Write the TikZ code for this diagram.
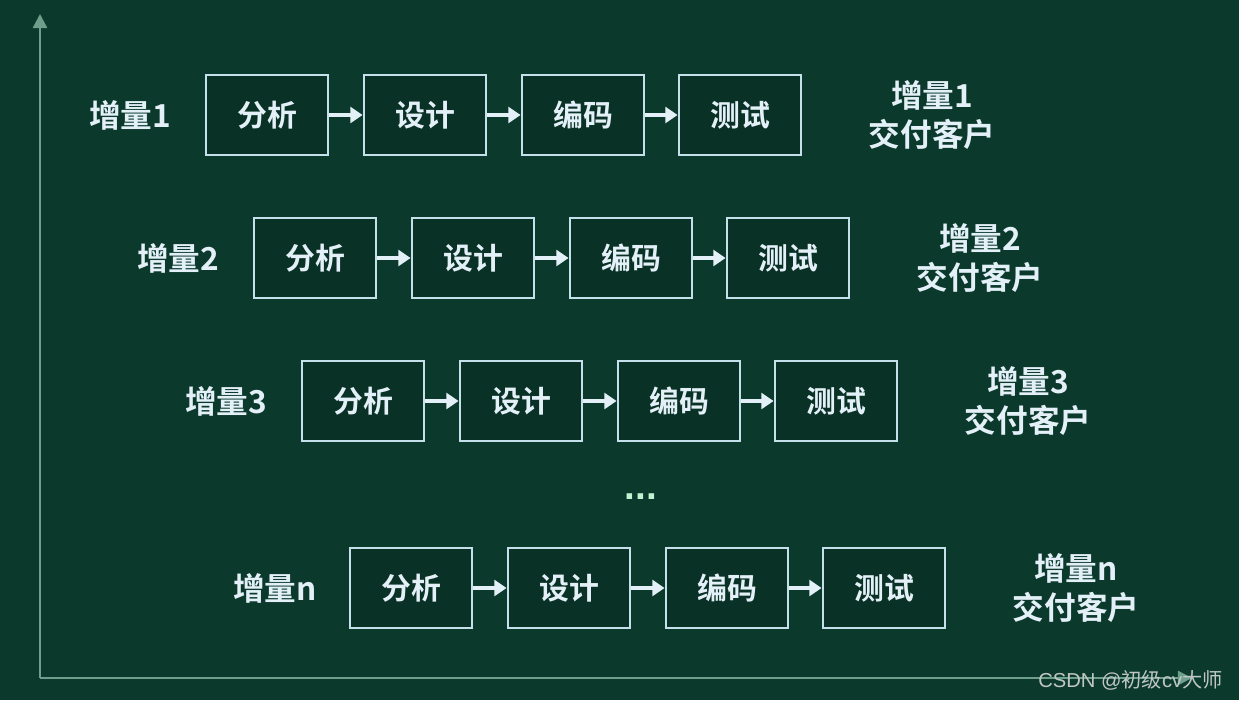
\documentclass[tikz,border=0pt]{standalone}
\usepackage{fontspec}
\newfontfamily\cjk{Noto Sans CJK SC}[BoldFont={Noto Sans CJK SC Bold}]
\setsansfont{Liberation Sans}
\usetikzlibrary{arrows.meta}
\definecolor{bg}{HTML}{0B3A2C}
\definecolor{boxline}{HTML}{C4E0EA}
\definecolor{txt}{HTML}{E4F0F8}
\definecolor{axis}{HTML}{6E9E8C}
\definecolor{wm}{HTML}{C0C6C4}
\begin{document}
\begin{tikzpicture}[x=0.02cm,y=-0.02cm,
  stagebox/.style={draw=boxline,line width=1.6pt,fill=bg!85!black,minimum width=2.44cm,minimum height=1.6cm,inner sep=0pt,text=txt,font=\cjk\bfseries\fontsize{17}{20}\selectfont},
  rowlabel/.style={text=txt,font=\cjk\bfseries\fontsize{18}{21}\selectfont,inner sep=0pt},
  deliver/.style={text=txt,font=\cjk\bfseries\fontsize{18}{22}\selectfont,align=center,inner sep=0pt},
  flow/.style={draw=txt,line width=2.4pt,-{Triangle[length=7pt,width=9pt]}},
  axisline/.style={draw=axis,line width=1.4pt}]
\fill[bg] (0,0) rectangle (1239,700);
\useasboundingbox (0,0) rectangle (1239,700);
% axes
\coordinate (o) at (40,678);
\coordinate (ytop) at (40,14);
\coordinate (xend) at (1192,678);
\draw[axisline,-{Triangle[length=8pt,width=8pt]}] (o) -- (ytop);
\draw[axisline,-{Triangle[length=8pt,width=8pt]}] (o) -- (xend);
% rows
\foreach \r/\lab/\dx/\cy/\lx in {1/1/0/115/130, 2/2/48/258/178, 3/3/96/401/226, 4/n/144/588/275}{
  \node[rowlabel] (lab\r) at (\lx,\cy) {增量\lab};
  \node[stagebox] (a\r) at (267+\dx,\cy) {分析};
  \node[stagebox] (b\r) at (425+\dx,\cy) {设计};
  \node[stagebox] (c\r) at (583+\dx,\cy) {编码};
  \node[stagebox] (d\r) at (740+\dx,\cy) {测试};
  \draw[flow] (a\r) -- (b\r);
  \draw[flow] (b\r) -- (c\r);
  \draw[flow] (c\r) -- (d\r);
  \node[deliver] (del\r) at (932+\dx,\cy) {增量\lab\\交付客户};
}
\node[text=txt!85!green,font=\sffamily\bfseries\fontsize{22}{22}\selectfont,inner sep=0pt] (dots) at (641,497) {...};
\node[text=wm,font=\fontsize{11.5}{12}\selectfont,anchor=east,inner sep=0pt] (wmk) at (1223,680) {\sffamily CSDN @{\cjk 初级}cv{\cjk 大师}};
\end{tikzpicture}
\end{document}
